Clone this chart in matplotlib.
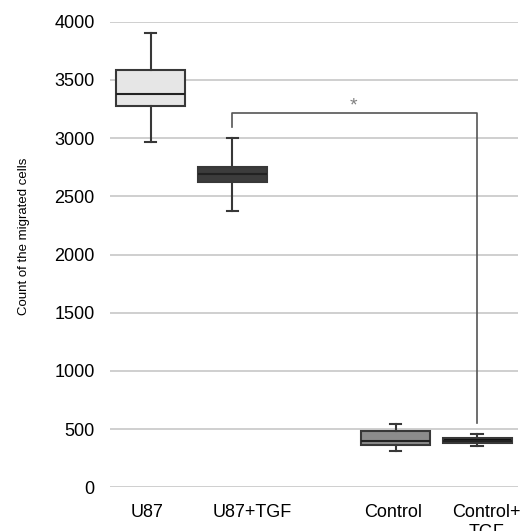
import matplotlib
matplotlib.use("Agg")
from matplotlib import pyplot as plt

# data
groups = ["U87", "U87+TGF", "Control", "Control+\nTGF"]
positions = [1, 2, 4, 5]
label_pos = [0.96, 2.24, 3.97, 5.11]
whislo = [2965, 2375, 312, 352]
q1 = [3275, 2626, 363, 383]
med = [3380, 2692, 398, 402]
q3 = [3585, 2749, 484, 421]
whishi = [3900, 2998, 541, 455]
fills = ["#e6e6e6", "#3c3c3c", "#8c8c8c", "#111111"]

bracket_top = 3215
bracket_left_end = 3095
bracket_right_end = 555

plt.rcParams['font.family'] = ['Liberation Sans', 'DejaVu Sans']

fig = plt.figure(figsize=(5.23, 5.31), dpi=100)
ax = fig.add_axes([0.2103, 0.0823, 0.7801, 0.8768])

stats = []
for i in range(len(groups)):
    stats.append({"whislo": whislo[i], "q1": q1[i], "med": med[i],
                  "q3": q3[i], "whishi": whishi[i], "fliers": []})

bp = ax.bxp(stats, positions=positions, widths=0.845, patch_artist=True,
            showfliers=False, capwidths=0.14,
            boxprops=dict(edgecolor="#383838", linewidth=1.5),
            medianprops=dict(color="#222222", linewidth=1.5),
            whiskerprops=dict(color="#383838", linewidth=1.5),
            capprops=dict(color="#383838", linewidth=1.5))
for patch, c in zip(bp["boxes"], fills):
    patch.set_facecolor(c)

# significance bracket
ax.plot([positions[1], positions[1], positions[3], positions[3]],
        [bracket_left_end, bracket_top, bracket_top, bracket_right_end],
        color="#555555", linewidth=1.2, zorder=1)
ax.text(3.48, bracket_top + 25, "*",
        ha="center", va="baseline", fontsize=14, color="#808080")

ax.set_xlim(0.5, 5.5)
ax.set_ylim(0, 4000)
ax.set_yticks(range(0, 4001, 500))
ax.set_xticks(label_pos)
ax.set_xticklabels(groups, fontsize=13)
ax.tick_params(axis="y", labelsize=13, length=0, pad=11)
ax.tick_params(axis="x", length=0, pad=12)
ax.grid(axis="y", color="#cccccc", linewidth=1.3)
ax.set_axisbelow(True)
for s in ax.spines.values():
    s.set_visible(False)

ax.set_ylabel("Count of the migrated cells", fontsize=9.5)
ax.yaxis.set_label_coords(-0.196, 0.54)

fig.savefig("out.png", dpi=100)
